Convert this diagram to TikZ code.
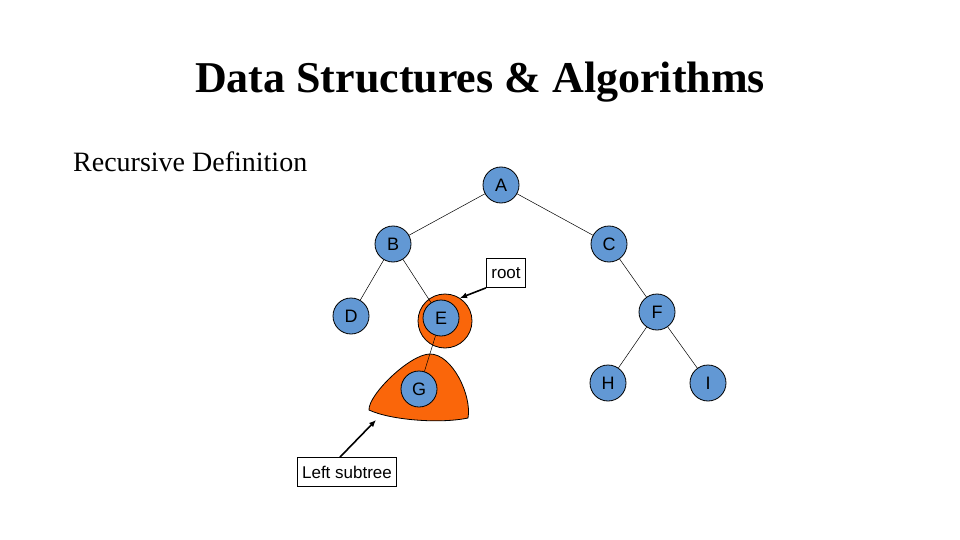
\documentclass[tikz,border=0pt]{standalone}
\usepackage{fontspec}
\setmainfont{Liberation Serif}
\newfontfamily\arialfont{Liberation Sans}
\usetikzlibrary{arrows.meta}
\definecolor{nodeblue}{RGB}{98,152,212}
\definecolor{subtreeorange}{RGB}{250,102,10}
\tikzset{
  treenode/.style={circle,draw=black,fill=nodeblue,minimum size=36pt,inner sep=0pt,font=\arialfont\fontsize{18}{20}\selectfont,line width=0.8pt},
  edge/.style={draw=black,line width=0.5pt},
  labelbox/.style={draw=black,fill=white,font=\arialfont\fontsize{17}{19}\selectfont,inner xsep=5pt,inner ysep=0pt,minimum height=29pt,line width=0.8pt},
  pointer/.style={draw=black,line width=1.6pt,-{Latex[length=7pt,width=6pt]}},
  blob/.style={draw=black,fill=subtreeorange,line width=0.8pt}
}
\begin{document}
\begin{tikzpicture}[x=1pt,y=-1pt]
\useasboundingbox (0,0) rectangle (960,540);
% orange highlights
\node[circle,blob,minimum size=54pt,inner sep=0pt] (Ering) at (445,321) {};
\path[blob] (430,354) .. controls (452,354) and (472,395) .. (468,418)
  .. controls (440,424) and (390,420) .. (369,410)
  .. controls (368,395) and (410,354) .. (430,354) -- cycle;
% nodes
\node[treenode] (A) at (501,185) {A};
\node[treenode] (B) at (393,244) {B};
\node[treenode] (C) at (609,244) {C};
\node[treenode] (D) at (351,316) {D};
\node[treenode] (E) at (441,318) {E};
\node[treenode] (F) at (657,312) {F};
\node[treenode] (G) at (419,389) {G};
\node[treenode] (H) at (608,383) {H};
\node[treenode] (I) at (708,383) {I};
% edges
\draw[edge] (A) -- (B);
\draw[edge] (A) -- (C);
\draw[edge] (B) -- (D);
\draw[edge] (B) -- (E);
\draw[edge] (C) -- (F);
\draw[edge] (F) -- (H);
\draw[edge] (F) -- (I);
\draw[edge] (E) -- (G);
% labels
\node[labelbox] (root) at (506,273) {root};
\node[labelbox] (left) at (347,472) {Left subtree};
\coordinate (rootTip) at (460,298);
\coordinate (leftTip) at (376,420);
\draw[pointer] (root.south west) -- (rootTip);
\draw[pointer] ([xshift=-7pt]left.north) -- (leftTip);
% texts
\node[font=\bfseries\fontsize{44}{50}\selectfont] (title) at (480,82) {Data Structures \& Algorithms};
\node[anchor=west,font=\fontsize{28}{32}\selectfont,inner sep=0pt] (sub) at (73,162) {Recursive Definition};
\end{tikzpicture}
\end{document}
